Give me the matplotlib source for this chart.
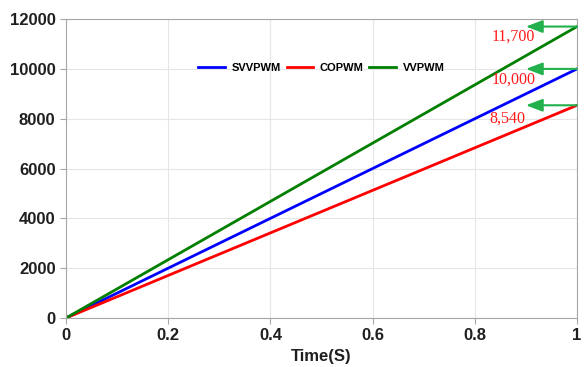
import numpy as np
import matplotlib
matplotlib.use("Agg")
import matplotlib.pyplot as plt

# final values at t = 1 s
t = [0.0, 1.0]
svvpwm = [0, 10000]
copwm = [0, 8540]
vvpwm = [0, 11700]
end_labels = ["11,700", "10,000", "8,540"]
end_values = [11700, 10000, 8540]

plt.rcParams['font.family'] = ['Liberation Sans', 'DejaVu Sans']

fig = plt.figure(figsize=(5.87, 3.67), dpi=100)
ax = fig.add_axes([0.1124, 0.1335, 0.8706, 0.8145])

ax.plot(t, svvpwm, color='#0000ff', lw=2, label='SVVPWM')
ax.plot(t, copwm, color='#ff0000', lw=2, label='COPWM')
ax.plot(t, vvpwm, color='#007f00', lw=2, label='VVPWM')

ax.set_xlim(0, 1)
ax.set_ylim(0, 12000)
ax.set_xticks([0, 0.2, 0.4, 0.6, 0.8, 1])
ax.set_xticklabels(['0', '0.2', '0.4', '0.6', '0.8', '1'])
ax.set_yticks(np.arange(0, 12001, 2000))
ax.grid(True, color='#e6e6e6', lw=0.8)
ax.set_axisbelow(True)
for s in ax.spines.values():
    s.set_color('#a6a6a6')
ax.tick_params(colors='#a6a6a6', labelcolor='#1f1f1f', labelsize=12, length=4, width=0.8)
for lab in ax.get_xticklabels() + ax.get_yticklabels():
    lab.set_fontweight('bold')
ax.set_xlabel('Time(S)', fontsize=12, fontweight='bold', color='#1f1f1f', labelpad=4)

leg = ax.legend(loc='center', bbox_to_anchor=(0.5, 0.836), ncol=3, frameon=False,
                prop={'weight': 'bold', 'size': 8}, handlelength=2.4, columnspacing=0.5,
                handletextpad=0.6)

# arrows marking the final values
label_x = [0.875, 0.875, 0.864]
label_dy = [-420, -450, -520]
for val, txt, lx, dy in zip(end_values, end_labels, label_x, label_dy):
    ax.annotate('', xy=(0.9, val), xytext=(1.0, val),
                arrowprops=dict(arrowstyle='-|>,head_length=1.0,head_width=0.38',
                                color='#22b14c', lw=1.5, shrinkA=0, shrinkB=0),
                annotation_clip=False)
    ax.text(lx, val + dy, txt, color='#ff1a1a', fontsize=11.5, ha='center', va='center',
            family=['Liberation Serif', 'DejaVu Serif'])

fig.savefig('out.png', dpi=100)
